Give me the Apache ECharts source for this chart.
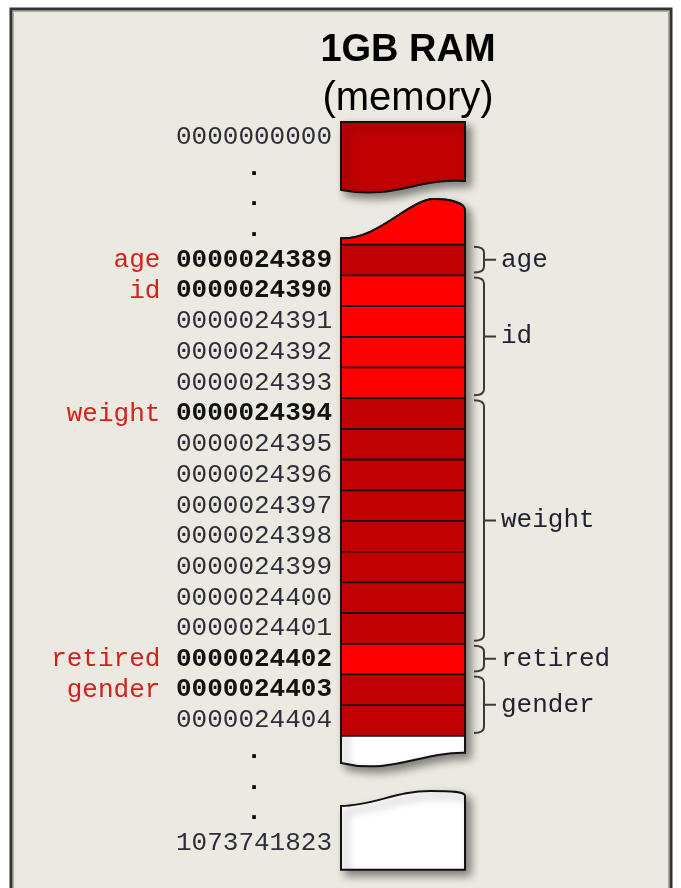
<!DOCTYPE html>
<html>
<head>
<meta charset="utf-8">
<script src="https://cdn.jsdelivr.net/npm/echarts@6/dist/echarts.min.js"></script>
<style>
    html, body { margin: 0; padding: 0; background: #ffffff; }
    #main { width: 681px; height: 888px; }
</style>
</head>
<body>
<div id="main"></div>
<script>
// memory rows shown in the diagram
var firstAddress = '0000000000';
var lastAddress = '1073741823';
var addresses = ['0000024389', '0000024390', '0000024391', '0000024392', '0000024393',
    '0000024394', '0000024395', '0000024396', '0000024397', '0000024398', '0000024399',
    '0000024400', '0000024401', '0000024402', '0000024403', '0000024404'];
// variables stored in those rows, and how many bytes each takes
var variables = ['age', 'id', 'weight', 'retired', 'gender'];
var variableBytes = [1, 4, 8, 1, 2];

var DARK = '#c00000', BRIGHT = '#ff0000', LINE = '#111111';
var MONO = "'Liberation Mono', 'Courier New', monospace";
var SHADOW = { shadowBlur: 8, shadowOffsetX: 5, shadowOffsetY: 5, shadowColor: 'rgba(0,0,0,0.45)' };

// first row of each variable
var starts = [];
var acc = 0;
for (var k = 0; k < variables.length; k++) {
    starts.push(acc);
    acc += variableBytes[k];
}

// each cell: [row, variable index]
var cellData = [];
for (var k = 0; k < variables.length; k++) {
    for (var b = 0; b < variableBytes[k]; b++) {
        cellData.push([starts[k] + b, k]);
    }
}

// address column rows outside the 16 cells: [row, text]
var n = addresses.length;
var gapRows = [-4, -3, -2, -1, n, n + 1, n + 2, n + 3];
var gapTexts = [firstAddress, '.', '.', '.', '.', '.', '.', lastAddress];

var braceData = variables.map(function (name, k) { return [starts[k], variableBytes[k], k]; });

function withShadow(style) {
    for (var key in SHADOW) style[key] = SHADOW[key];
    return style;
}

function renderOutline(params, api) {
    function c(x, y) { return api.coord([x, y]).join(' '); }
    var topBox = 'M' + c(0, -4) + 'L' + c(1, -4) + 'L' + c(1, -2.078) +
        'C' + c(0.6, -2.176) + ' ' + c(0.45, -1.46) + ' ' + c(0, -1.785) + 'Z';
    var topWave = 'M' + c(0, -0.212) + 'C' + c(0.3, -0.156) + ' ' + c(0.55, -1.492) + ' ' + c(0.75, -1.492) +
        'C' + c(0.9, -1.492) + ' ' + c(1, -1.329) + ' ' + c(1, -1.134);
    var middle = topWave + 'L' + c(1, n + 0.55) +
        'C' + c(0.65, n + 0.52) + ' ' + c(0.4, n + 1.27) + ' ' + c(0, n + 0.879) + 'Z';
    var piece = topWave + 'L' + c(1, 0) + 'L' + c(0, 0) + 'Z';
    var bottomBox = 'M' + c(0, n + 2.28) + 'C' + c(0.25, n + 2.28) + ' ' + c(0.45, n + 1.79) + ' ' + c(0.72, n + 1.79) +
        'C' + c(0.88, n + 1.79) + ' ' + c(1, n + 1.82) + ' ' + c(1, n + 1.95) +
        'L' + c(1, n + 4.36) + 'L' + c(0, n + 4.36) + 'Z';
    return {
        type: 'group',
        children: [
            { type: 'path', shape: { pathData: topBox }, style: withShadow({ fill: DARK, stroke: LINE, lineWidth: 2 }) },
            { type: 'path', shape: { pathData: middle }, style: withShadow({ fill: '#ffffff', stroke: LINE, lineWidth: 2 }) },
            { type: 'path', shape: { pathData: piece }, style: { fill: BRIGHT, stroke: LINE, lineWidth: 2 } },
            { type: 'path', shape: { pathData: bottomBox }, style: withShadow({ fill: '#ffffff', stroke: LINE, lineWidth: 2 }) }
        ]
    };
}

function renderCell(params, api) {
    var row = api.value(0), k = api.value(1);
    var p0 = api.coord([0, row]), p1 = api.coord([1, row + 1]);
    var first = starts[k] === row;
    var text = first ? '{v|' + variables[k] + ' }{b|' + addresses[row] + '}' : '{a|' + addresses[row] + '}';
    return {
        type: 'group',
        children: [
            {
                type: 'rect',
                shape: { x: p0[0], y: p0[1], width: p1[0] - p0[0], height: p1[1] - p0[1] },
                style: { fill: k % 2 ? BRIGHT : DARK, stroke: LINE, lineWidth: 1.6 }
            },
            {
                type: 'text',
                x: p0[0] - 9,
                y: (p0[1] + p1[1]) / 2,
                style: {
                    text: text, align: 'right', verticalAlign: 'middle',
                    rich: {
                        v: { fontFamily: MONO, fontSize: 26, fill: '#d42020' },
                        b: { fontFamily: MONO, fontSize: 26, fill: '#111111', fontWeight: 'bold' },
                        a: { fontFamily: MONO, fontSize: 26, fill: '#2e2e3a' }
                    }
                }
            }
        ]
    };
}

function renderGap(params, api) {
    var row = api.value(1);
    var text = gapTexts[params.dataIndex];
    var p0 = api.coord([0, row]), p1 = api.coord([0, row + 1]);
    var dot = text === '.';
    return {
        type: 'text',
        x: dot ? p0[0] - 9 - 78 : p0[0] - 9,
        y: (p0[1] + p1[1]) / 2,
        style: {
            text: text, align: dot ? 'center' : 'right', verticalAlign: 'middle',
            fontFamily: MONO, fontSize: 26, fontWeight: dot ? 'bold' : 'normal', fill: dot ? '#1a0010' : '#2e2e3a'
        }
    };
}

function renderBrace(params, api) {
    var start = api.value(0), bytes = api.value(1), k = api.value(2);
    var right = api.coord([1, start])[0];
    var top = api.coord([1, start])[1] + 2;
    var bot = api.coord([1, start + bytes])[1] - 3;
    var mid = (top + bot) / 2;
    var x0 = right + 9, xv = right + 19, tip = right + 31;
    var d = 'M' + x0 + ' ' + top + 'Q' + xv + ' ' + top + ' ' + xv + ' ' + (top + 6) +
        'L' + xv + ' ' + (bot - 6) + 'Q' + xv + ' ' + bot + ' ' + x0 + ' ' + bot +
        'M' + xv + ' ' + mid + 'L' + tip + ' ' + mid;
    return {
        type: 'group',
        children: [
            { type: 'path', shape: { pathData: d }, style: { fill: null, stroke: '#3a3a3a', lineWidth: 2 } },
            {
                type: 'text', x: tip + 5, y: mid,
                style: { text: variables[k], align: 'left', verticalAlign: 'middle', fontFamily: MONO, fontSize: 26, fill: '#222233' }
            }
        ]
    };
}

var myChart = echarts.init(document.getElementById('main'));
var option = {
    animation: false,
    backgroundColor: '#ffffff',
    title: [{
        text: '1GB RAM',
        left: 403, top: 27, textAlign: 'center',
        textStyle: { fontFamily: "'Liberation Sans', Arial, sans-serif", fontSize: 38, fontWeight: 'bold', color: '#000000' }
    }, {
        text: '(memory)',
        left: 403, top: 74, textAlign: 'center',
        textStyle: { fontFamily: "'Liberation Sans', Arial, sans-serif", fontSize: 40, fontWeight: 'normal', color: '#000000' }
    }],
    graphic: [{
        type: 'rect', z: -10, silent: true,
        shape: { x: 11, y: 9, width: 660, height: 900 },
        style: { fill: '#ece9e0', stroke: '#333333', lineWidth: 3 }
    }, {
        type: 'rect', z: -9, silent: true,
        shape: { x: 13.5, y: 11.5, width: 655, height: 900 },
        style: { fill: null, stroke: '#a8a8a0', lineWidth: 1 }
    }],
    grid: { left: 341, width: 124, top: 122, height: 749 },
    xAxis: { type: 'value', min: 0, max: 1, show: false },
    yAxis: { type: 'value', inverse: true, min: -4, max: 20.4, show: false },
    series: [{
        name: 'outline', type: 'custom', z: 1, data: [[0, 0]], renderItem: renderOutline
    }, {
        name: 'cells', type: 'custom', z: 2, data: cellData, renderItem: renderCell
    }, {
        name: 'gaps', type: 'custom', z: 2,
        data: gapRows.map(function (r) { return [0, r]; }),
        renderItem: renderGap
    }, {
        name: 'braces', type: 'custom', z: 3, data: braceData, renderItem: renderBrace
    }]
};
myChart.setOption(option);
</script>
</body>
</html>
